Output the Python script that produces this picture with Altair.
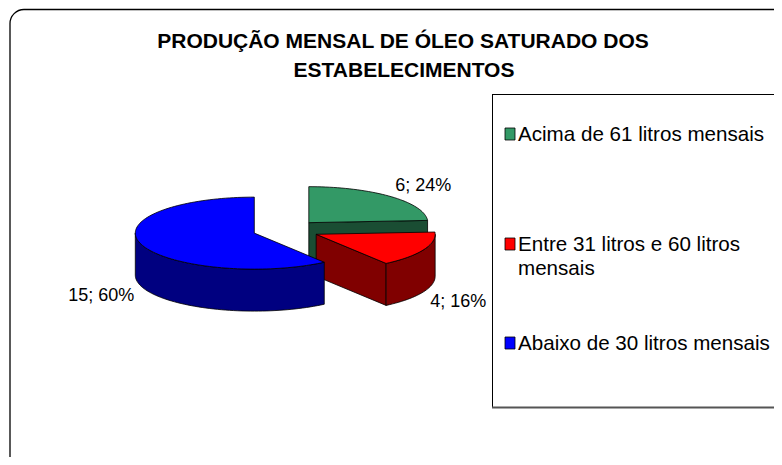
import math
import altair as alt
import pandas as pd

# ---------------- data ----------------
categories = ["Acima de 61 litros mensais",
              "Entre 31 litros e 60 litros mensais",
              "Abaixo de 30 litros mensais"]
legend_lines = ["Acima de 61 litros mensais",
                "Entre 31 litros e 60 litros\nmensais",
                "Abaixo de 30 litros mensais"]
values = [6, 4, 15]
top_colors = ["#339966", "#FF0000", "#0000FF"]
side_colors = ["#1A4D33", "#800000", "#000080"]
title_lines = ["PRODUÇÃO MENSAL DE ÓLEO SATURADO DOS", "ESTABELECIMENTOS"]

FONT = "Liberation Sans"
W, H = 766, 449

# ---------------- 3D pie geometry (unit radius, y up) ----------------
TILT = 0.3025      # ellipse ry / rx
DEPTH = 0.353      # side height / rx
EXPLODE = 0.28
STEP = 2.0
LABEL_R = 1.06

total = sum(values)
rad = math.radians


def rim(ox, oy, th, dz=0.0):
    return [ox + math.sin(rad(th)), oy + TILT * math.cos(rad(th)) - dz]


def arc(ox, oy, a, b, dz=0.0):
    n = max(2, int(abs(b - a) / STEP) + 1)
    return [rim(ox, oy, a + (b - a) * k / (n - 1), dz) for k in range(n)]


def feature(ring, fill, name):
    ring = ring + [ring[0]]
    return {"type": "Feature",
            "geometry": {"type": "Polygon", "coordinates": [ring]},
            "properties": {"fill": fill, "name": name}}


features = []
label_rows = []
start = 0.0
for cat, v, tc, sc in zip(categories, values, top_colors, side_colors):
    a = start
    b = start + 360.0 * v / total
    start = b
    m = (a + b) / 2
    ox = EXPLODE * math.sin(rad(m))
    oy = EXPLODE * TILT * math.cos(rad(m))
    # radial faces facing the viewer
    for th, normal in ((a, a - 90), (b, b + 90)):
        if math.cos(rad(normal)) < -1e-6:
            ring = [[ox, oy], rim(ox, oy, th), rim(ox, oy, th, DEPTH), [ox, oy - DEPTH]]
            features.append(feature(ring, sc, cat))
    # visible outer wall
    lo, hi = max(a, 90.0), min(b, 270.0)
    if hi > lo:
        ring = arc(ox, oy, lo, hi) + arc(ox, oy, hi, lo, DEPTH)
        features.append(feature(ring, sc, cat))
    # top face
    ring = [[ox, oy]] + arc(ox, oy, a, b)
    features.append(feature(ring, tc, cat))
    # data label, anchored by its near corner just outside the rim
    s, c = math.sin(rad(m)), math.cos(rad(m))
    lx = ox + LABEL_R * s
    ly = oy + TILT * LABEL_R * c - (DEPTH if c < 0 else 0)
    label_rows.append({"lon": lx, "lat": ly,
                       "text": f"{v}; {round(100 * v / total)}%",
                       "align": "left" if s > 0 else "right",
                       "baseline": "bottom" if c > 0 else "top"})

PROJ = dict(type="identity", reflectY=True, scale=119, translate=[278, 222])

dummy = pd.DataFrame({"k": [0]})

border = alt.Chart(dummy).mark_rect(
    fill="white", stroke="black", strokeWidth=1.3, cornerRadius=14
).encode(x=alt.value(2), x2=alt.value(790), y=alt.value(1.5), y2=alt.value(470))

legend_top = alt.Chart(dummy).mark_rule(color="black", strokeWidth=1).encode(
    x=alt.value(484), x2=alt.value(766), y=alt.value(86.5))
legend_left = alt.Chart(dummy).mark_rule(color="black", strokeWidth=1).encode(
    x=alt.value(484.5), y=alt.value(86), y2=alt.value(399))
legend_bottom = alt.Chart(dummy).mark_rule(color="#555555", strokeWidth=2).encode(
    x=alt.value(484), x2=alt.value(766), y=alt.value(399.5))

pie = alt.Chart(alt.Data(values=features)).mark_geoshape(
    stroke="black", strokeWidth=0.8, strokeJoin="round"
).encode(
    fill=alt.Color("properties.fill:N", scale=None),
).project(**PROJ)

label_layers = []
for row in label_rows:
    label_layers.append(
        alt.Chart(pd.DataFrame([row])).mark_text(
            font=FONT, fontSize=18, color="black",
            align=row["align"], baseline=row["baseline"]
        ).encode(longitude="lon:Q", latitude="lat:Q", text="text:N").project(**PROJ)
    )

title1 = alt.Chart(dummy).mark_text(
    text=title_lines[0], font=FONT, fontSize=21, fontWeight="bold",
    align="center", baseline="alphabetic", color="black"
).encode(x=alt.value(395), y=alt.value(40))
title2 = alt.Chart(dummy).mark_text(
    text=title_lines[1], font=FONT, fontSize=21, fontWeight="bold",
    align="center", baseline="alphabetic", color="black"
).encode(x=alt.value(396), y=alt.value(69))

legend_layers = []
legend_y = [126, 236, 335]
for txt, col, yc in zip(legend_lines, top_colors, legend_y):
    sq = alt.Chart(dummy).mark_rect(fill=col, stroke="black", strokeWidth=0.8).encode(
        x=alt.value(497), x2=alt.value(507), y=alt.value(yc - 6), y2=alt.value(yc + 6))
    tx = alt.Chart(dummy).mark_text(
        text=txt.split("\n") if "\n" in txt else txt, font=FONT, fontSize=20.6,
        align="left", baseline="alphabetic", lineHeight=24, color="black"
    ).encode(x=alt.value(510), y=alt.value(yc + 7))
    legend_layers += [sq, tx]

chart = alt.layer(
    border, legend_top, legend_left, legend_bottom, pie,
    *label_layers, title1, title2, *legend_layers
).properties(
    width=W, height=H, autosize="none", padding=0, background="white"
).configure_view(stroke=None)

chart.save("out.html", embed_options={"renderer": "svg", "actions": False})
